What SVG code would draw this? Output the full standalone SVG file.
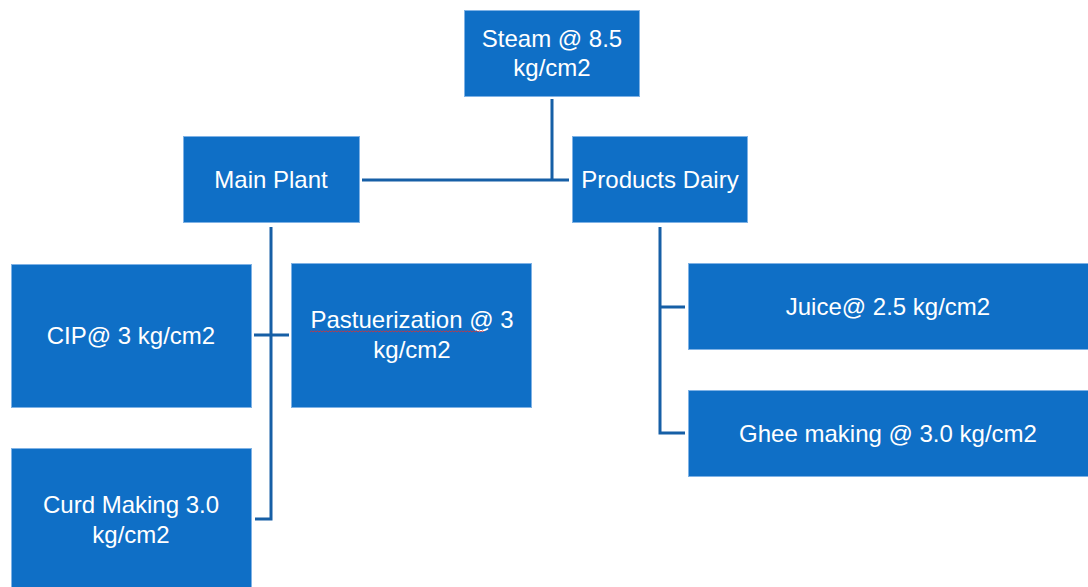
<svg xmlns="http://www.w3.org/2000/svg" width="1088" height="587" viewBox="0 0 1088 587">
<style>
.box{fill:#0F6FC6;stroke:#7FB2E5;stroke-width:1}
.t{font-family:"Liberation Sans",Arial,sans-serif;font-size:24px;fill:#FFFFFF;text-anchor:middle}
.c{fill:none;stroke:#165FA6;stroke-width:3}
</style>
<rect width="1088" height="587" fill="#FFFFFF"/>
<g id="connectors">
<path class="c" d="M552 99 V180 M362 180 H569"/>
<path class="c" d="M271 227 V519 H255 M254 335 H289"/>
<path class="c" d="M660 227 V433 H685 M660 307 H685"/>
</g>
<g id="steam"><rect class="box" x="464.5" y="10.5" width="175" height="86"/><text class="t" x="552" y="47">Steam @ 8.5</text><text class="t" x="552" y="76">kg/cm2</text></g>
<g id="main-plant"><rect class="box" x="183.5" y="136.5" width="176" height="86"/><text class="t" x="271" y="188">Main Plant</text></g>
<g id="products-dairy"><rect class="box" x="572.5" y="136.5" width="175" height="86"/><text class="t" x="660" y="188">Products Dairy</text></g>
<g id="cip"><rect class="box" x="11.5" y="264.5" width="240" height="143"/><text class="t" x="131" y="344">CIP@ 3 kg/cm2</text></g>
<g id="pasteurization"><rect class="box" x="291.5" y="263.5" width="240" height="144"/><text class="t" x="412" y="328">Pastuerization @ 3</text><text class="t" x="412" y="358">kg/cm2</text><path d="M310 332 l1.5 -1.2 l1.5 1.2 l1.5 -1.2 l1.5 1.2 l1.5 -1.2 l1.5 1.2 l1.5 -1.2 l1.5 1.2 l1.5 -1.2 l1.5 1.2 l1.5 -1.2 l1.5 1.2 l1.5 -1.2 l1.5 1.2 l1.5 -1.2 l1.5 1.2 l1.5 -1.2 l1.5 1.2 l1.5 -1.2 l1.5 1.2 l1.5 -1.2 l1.5 1.2 l1.5 -1.2 l1.5 1.2 l1.5 -1.2 l1.5 1.2 l1.5 -1.2 l1.5 1.2 l1.5 -1.2 l1.5 1.2 l1.5 -1.2 l1.5 1.2 l1.5 -1.2 l1.5 1.2 l1.5 -1.2 l1.5 1.2 l1.5 -1.2 l1.5 1.2 l1.5 -1.2 l1.5 1.2 l1.5 -1.2 l1.5 1.2 l1.5 -1.2 l1.5 1.2 l1.5 -1.2 l1.5 1.2 l1.5 -1.2 l1.5 1.2 l1.5 -1.2 l1.5 1.2 l1.5 -1.2 l1.5 1.2 l1.5 -1.2 l1.5 1.2 l1.5 -1.2 l1.5 1.2 l1.5 -1.2 l1.5 1.2 l1.5 -1.2 l1.5 1.2 l1.5 -1.2 l1.5 1.2 l1.5 -1.2 l1.5 1.2 l1.5 -1.2 l1.5 1.2 l1.5 -1.2 l1.5 1.2 l1.5 -1.2 l1.5 1.2 l1.5 -1.2 l1.5 1.2 l1.5 -1.2 l1.5 1.2 l1.5 -1.2 l1.5 1.2 l1.5 -1.2 l1.5 1.2 l1.5 -1.2 l1.5 1.2 l1.5 -1.2 l1.5 1.2 l1.5 -1.2 l1.5 1.2 l1.5 -1.2 l1.5 1.2 l1.5 -1.2 l1.5 1.2 l1.5 -1.2 l1.5 1.2 l1.5 -1.2 l1.5 1.2 l1.5 -1.2 l1.5 1.2 l1.5 -1.2 l1.5 1.2 l1.5 -1.2 l1.5 1.2 l1.5 -1.2 l1.5 1.2 l1.5 -1.2 l1.5 1.2 l1.5 -1.2 l1.5 1.2 l1.5 -1.2 l1.5 1.2 l1.5 -1.2 l1.5 1.2 l1.5 -1.2 l1.5 1.2 l1.5 -1.2 l1.5 1.2 l1.5 -1.2 l1.5 1.2 l1.5 -1.2 l1.5 1.2" fill="none" stroke="#E03030" stroke-width="0.8"/></g>
<g id="curd"><rect class="box" x="11.5" y="448.5" width="240" height="140"/><text class="t" x="131" y="513">Curd Making 3.0</text><text class="t" x="131" y="543">kg/cm2</text></g>
<g id="juice"><rect class="box" x="688.5" y="263.5" width="401" height="86"/><text class="t" x="888" y="315">Juice@ 2.5 kg/cm2</text></g>
<g id="ghee"><rect class="box" x="688.5" y="390.5" width="401" height="86"/><text class="t" x="888" y="442">Ghee making @ 3.0 kg/cm2</text></g>
</svg>
